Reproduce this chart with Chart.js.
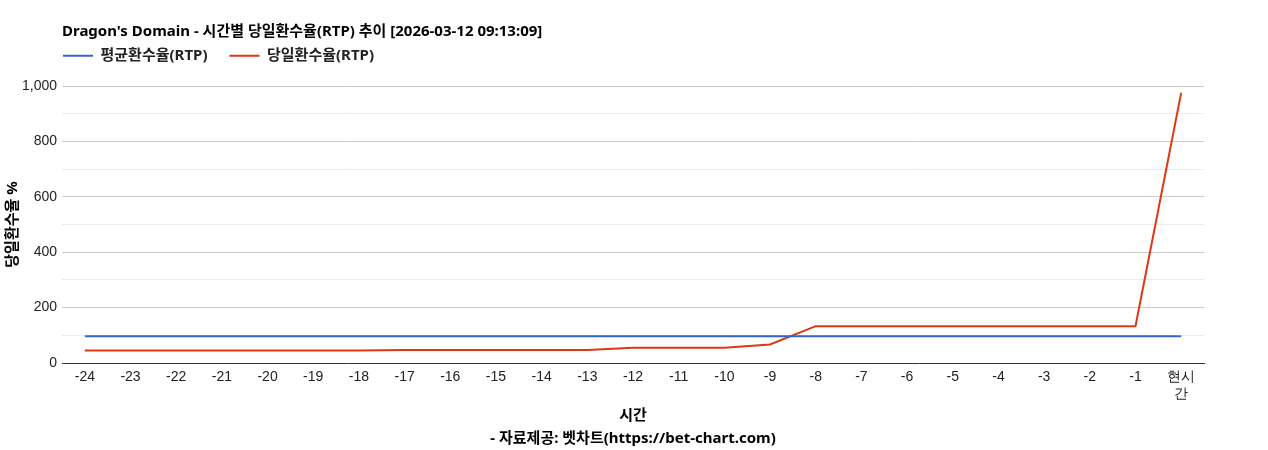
<!DOCTYPE html>
<html>
<head>
<meta charset="utf-8">
<script src="https://cdn.jsdelivr.net/npm/chart.js@4"></script>
<style>
html,body{margin:0;padding:0;background:#fff;}
#wrap{width:1268px;height:450px;position:relative;}
</style>
</head>
<body>
<div id="wrap"><canvas id="c"></canvas></div>
<script>
const categories = ['-24','-23','-22','-21','-20','-19','-18','-17','-16','-15','-14','-13','-12','-11','-10','-9','-8','-7','-6','-5','-4','-3','-2','-1',['현시','간']];
const avgRtp = [97,97,97,97,97,97,97,97,97,97,97,97,97,97,97,97,97,97,97,97,97,97,97,97,97];
const dailyRtp = [45,45,45,45,45,45,45,47,47,47,47,47,55,55,55,67,133,133,133,133,133,133,133,133,975];
const yTicks = [0,200,400,600,800,1000];
const titleText = "Dragon's Domain - 시간별 당일환수율(RTP) 추이 [2026-03-12 09:13:09]";
const xTitle = ['시간','- 자료제공: 벳차트(https://bet-chart.com)'];
const yTitle = '당일환수율 %';

const KFONT = "'Noto Sans','Noto Sans CJK KR',sans-serif";
const TFONT = "'Liberation Sans',Arial,sans-serif";
const LEG_PAD = 22;

const legendTweak = {
  id: 'legendTweak',
  beforeLayout(chart) {
    const lg = chart.legend;
    if (lg && !lg._wrapped) {
      const orig = lg.fit;
      lg.fit = function() { orig.call(this); this.height = 45; };
      lg._wrapped = true;
    }
  },
  afterLayout(chart) {
    const lg = chart.legend;
    if (lg) { lg.left = chart.chartArea.left + 1 - LEG_PAD; lg.top = 55.7 - 7.5 - LEG_PAD; }
  }
};

new Chart(document.getElementById('c'), {
  type: 'line',
  data: {
    labels: categories,
    datasets: [
      {label:'평균환수율(RTP)', data: avgRtp, borderColor:'#3366cc', backgroundColor:'#3366cc', borderWidth:2, pointRadius:0, tension:0},
      {label:'당일환수율(RTP)', data: dailyRtp, borderColor:'#dc3912', backgroundColor:'#dc3912', borderWidth:2, pointRadius:0, tension:0}
    ]
  },
  plugins: [legendTweak],
  options: {
    responsive:true, maintainAspectRatio:false, animation:false,
    layout:{padding:{left:0,right:64,top:0,bottom:0}},
    plugins:{
      title:{display:true, text:titleText, align:'start', fullSize:false, color:'#000',
        font:{family:KFONT, size:15, weight:'bold', lineHeight:1.2}, padding:{top:23,bottom:0}},
      legend:{display:true, align:'start', fullSize:false,
        labels:{boxWidth:30, boxHeight:2, color:'#222', padding:LEG_PAD, font:{family:KFONT, size:15, weight:'bold'},
          generateLabels:(chart)=> Chart.defaults.plugins.legend.labels.generateLabels(chart).map(l => Object.assign(l, {lineWidth:0}))}},
      tooltip:{enabled:false}
    },
    scales:{
      x:{
        offset:true,
        grid:{display:false, drawTicks:false},
        border:{display:true, color:'#333', width:1},
        ticks:{color:'#222', autoSkip:false, maxRotation:0, padding:6, font:{family:TFONT, size:14}},
        title:{display:true, text:xTitle, color:'#000', font:{family:KFONT, size:15, weight:'bold', lineHeight:1.533}, padding:{top:0,bottom:0}},
        afterFit:(s)=>{ s.height = 87; }
      },
      y:{
        min:0, max:1000,
        grid:{drawTicks:false, color:(c)=> c.tick && c.tick.value===0 ? 'rgba(0,0,0,0)' : (yTicks.includes(c.tick.value) ? '#cccccc' : '#ebebeb')},
        border:{display:false},
        ticks:{stepSize:100, color:'#222', padding:5, font:{family:TFONT, size:14},
          callback:(v)=> yTicks.includes(v) ? v.toLocaleString('en-US') : ''},
        title:{display:true, text:yTitle, color:'#000', font:{family:KFONT, size:15, weight:'bold'}, padding:{top:4,bottom:0}},
        afterFit:(s)=>{ s.width = 62; }
      }
    }
  }
});
</script>
</body>
</html>
